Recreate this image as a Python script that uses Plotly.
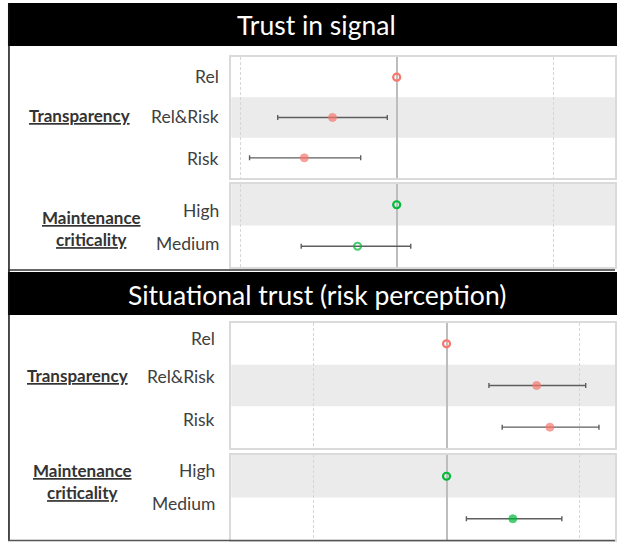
import plotly.graph_objects as go

W, H = 617, 542

# ---------------- data ----------------
transparency_levels = ["Rel", "Rel&Risk", "Risk"]
criticality_levels = ["High", "Medium"]

# Trust in signal
sig_trans_est = [0.0, -0.41, -0.59]
sig_trans_lo = [None, -0.76, -0.94]
sig_trans_hi = [None, -0.06, -0.23]
sig_trans_filled = [False, True, True]
sig_crit_est = [0.0, -0.25]
sig_crit_lo = [None, -0.61]
sig_crit_hi = [None, 0.09]
sig_crit_filled = [False, False]

# Situational trust (risk perception)
sit_trans_est = [0.0, 0.68, 0.78]
sit_trans_lo = [None, 0.32, 0.42]
sit_trans_hi = [None, 1.05, 1.15]
sit_trans_filled = [False, True, True]
sit_crit_est = [0.0, 0.50]
sit_crit_lo = [None, 0.15]
sit_crit_hi = [None, 0.87]
sit_crit_filled = [False, True]

titles = ["Trust in signal", "Situational trust (risk perception)"]
group_labels = [["Transparency"], ["Maintenance", "criticality"]]
grid_ticks = [-1, 1]

RED = "#F8766D"
GREEN = "#00BA38"
FONT = "Lato"


def py(p):
    return 1 - p / H


def px(p):
    return p / W


panels = [
    dict(levels=transparency_levels, est=sig_trans_est, lo=sig_trans_lo, hi=sig_trans_hi,
         filled=sig_trans_filled, color=RED, top=57, bot=178, rng=[-1.057, 1.395], gray=[1],
         label_y=[76, 117, 158], label_x=222),
    dict(levels=criticality_levels, est=sig_crit_est, lo=sig_crit_lo, hi=sig_crit_hi,
         filled=sig_crit_filled, color=GREEN, top=184, bot=267, rng=[-1.057, 1.395], gray=[0],
         label_y=[211, 243], label_x=222),
    dict(levels=transparency_levels, est=sit_trans_est, lo=sit_trans_lo, hi=sit_trans_hi,
         filled=sit_trans_filled, color=RED, top=323, bot=448, rng=[-1.624, 1.271], gray=[1],
         label_y=[338, 376, 419], label_x=218),
    dict(levels=criticality_levels, est=sit_crit_est, lo=sit_crit_lo, hi=sit_crit_hi,
         filled=sit_crit_filled, color=GREEN, top=455, bot=540, rng=[-1.624, 1.271], gray=[0],
         label_y=[470, 503], label_x=218),
]

fig = go.Figure()
shapes = []
annotations = []
layout = {}

for i, p in enumerate(panels):
    n = i + 1
    xa = "x" if n == 1 else f"x{n}"
    ya = "y" if n == 1 else f"y{n}"
    xkey = "xaxis" if n == 1 else f"xaxis{n}"
    ykey = "yaxis" if n == 1 else f"yaxis{n}"
    nlev = len(p["levels"])

    layout[xkey] = dict(
        domain=[px(232), 1], range=p["rng"], anchor=ya,
        showticklabels=False, ticks="", tickvals=grid_ticks,
        showgrid=True, gridcolor="#D6D6D6", gridwidth=1, griddash="3px,2px",
        zeroline=True, zerolinecolor="#BDBDBD", zerolinewidth=1.6,
        showline=True, mirror=True, linecolor="#DADADA", linewidth=1.5,
        fixedrange=True,
    )
    layout[ykey] = dict(
        domain=[py(p["bot"]), py(p["top"])], anchor=xa,
        type="category", categoryorder="array", categoryarray=p["levels"],
        range=[nlev - 0.5, -0.5],
        showticklabels=False, ticks="", showgrid=False, zeroline=False,
        showline=True, mirror=True, linecolor="#DADADA", linewidth=1.5,
        fixedrange=True,
    )

    for g in p["gray"]:
        shapes.append(dict(type="rect", xref=f"{xa} domain", yref=ya,
                           x0=0, x1=1, y0=g - 0.5, y1=g + 0.5,
                           fillcolor="#EBEBEB", line_width=0, layer="below"))

    ci_idx = [k for k in range(nlev) if p["lo"][k] is not None]
    ref_idx = [k for k in range(nlev) if p["lo"][k] is None]

    fig.add_trace(go.Scatter(
        x=[p["est"][k] for k in ci_idx],
        y=[p["levels"][k] for k in ci_idx],
        xaxis=xa, yaxis=ya, mode="markers",
        error_x=dict(type="data", symmetric=False,
                     array=[p["hi"][k] - p["est"][k] for k in ci_idx],
                     arrayminus=[p["est"][k] - p["lo"][k] for k in ci_idx],
                     color="#5E5E5E", thickness=1.4, width=2.5),
        marker=dict(size=[8 if p["filled"][k] else 7 for k in ci_idx],
                    color=[p["color"] if p["filled"][k] else "rgba(0,0,0,0)" for k in ci_idx],
                    symbol="circle",
                    line=dict(color=p["color"], width=[1 if p["filled"][k] else 2.2 for k in ci_idx])),
        showlegend=False, hoverinfo="skip",
    ))
    fig.add_trace(go.Scatter(
        x=[p["est"][k] for k in ref_idx],
        y=[p["levels"][k] for k in ref_idx],
        xaxis=xa, yaxis=ya, mode="markers",
        marker=dict(size=7, color="rgba(0,0,0,0)", symbol="circle",
                    line=dict(color=p["color"], width=2.2)),
        showlegend=False, hoverinfo="skip",
    ))

    for lev, ly in zip(p["levels"], p["label_y"]):
        annotations.append(dict(text=lev, xref="paper", yref="paper",
                                x=px(p["label_x"]), y=py(ly), xanchor="right", yanchor="middle",
                                showarrow=False, font=dict(family=FONT, size=17.5, color="#404040")))

group_pos = [(80, 115), (92, 228), (78, 375), (83, 482)]
for (gx, gy), lines in zip(group_pos, group_labels * 2):
    txt = "<br>".join(f"<b><u>{ln}</u></b>" for ln in lines)
    annotations.append(dict(text=txt, xref="paper", yref="paper", x=px(gx), y=py(gy),
                            xanchor="center", yanchor="middle", align="center", showarrow=False,
                            font=dict(family=FONT, size=17, color="#333333")))

for (t0, t1), title in zip([(3, 46), (272, 315)], titles):
    shapes.append(dict(type="rect", xref="paper", yref="paper",
                       x0=px(8), x1=1.01, y0=py(t1), y1=py(t0),
                       fillcolor="black", line_width=0, layer="above"))
    annotations.append(dict(text=title, xref="paper", yref="paper",
                            x=px(318), y=py((t0 + t1) / 2 + 1), xanchor="center", yanchor="middle",
                            showarrow=False, font=dict(family=FONT, size=26.5, color="white")))

shapes.append(dict(type="line", xref="paper", yref="paper", x0=px(9), x1=px(9),
                   y0=py(541), y1=py(3), line=dict(color="#111111", width=1.5)))
shapes.append(dict(type="line", xref="paper", yref="paper", x0=px(8), x1=1,
                   y0=py(540.5), y1=py(540.5), line=dict(color="#555555", width=1.5)))
shapes.append(dict(type="line", xref="paper", yref="paper", x0=px(8), x1=1,
                   y0=py(270), y1=py(270), line=dict(color="#333333", width=1.5)))

fig.update_layout(
    width=W, height=H, margin=dict(l=0, r=0, t=0, b=0),
    paper_bgcolor="white", plot_bgcolor="white",
    shapes=shapes, annotations=annotations, showlegend=False,
    **layout,
)

fig.write_html("out.html", config={"displayModeBar": False},
               post_script="document.body.style.margin='0';document.body.style.overflow='hidden';")
